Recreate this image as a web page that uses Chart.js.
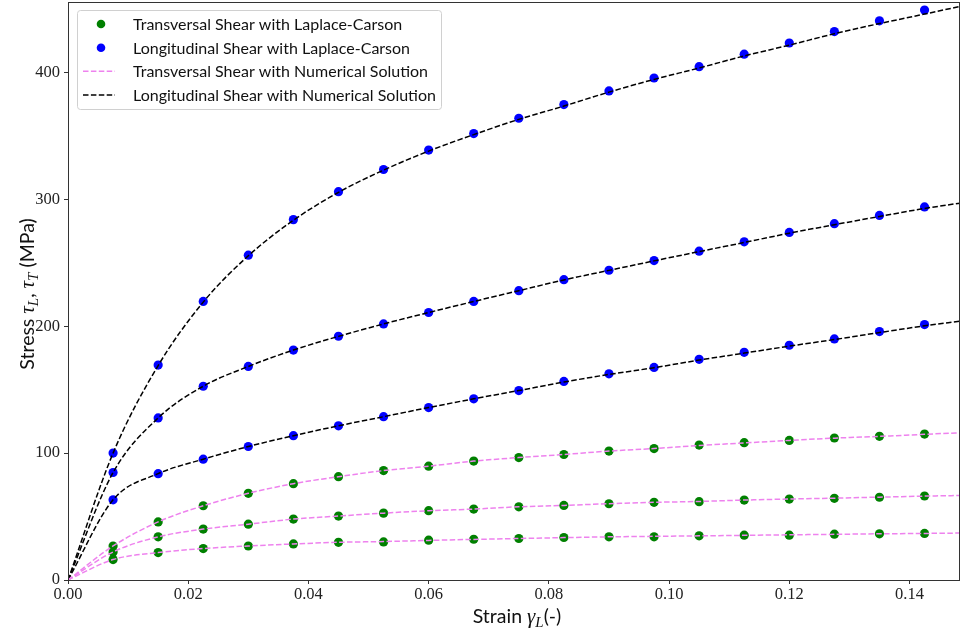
<!DOCTYPE html>
<html lang="en">
<head>
<meta charset="UTF-8">
<title>Shear stress vs strain</title>
<script src="https://cdn.jsdelivr.net/npm/chart.js"></script>
<style>
  html, body { margin: 0; padding: 0; background: #fff; }
  #wrap { width: 961px; height: 635px; }
</style>
</head>
<body>
<div id="wrap"><canvas id="stressChart" width="961" height="635"></canvas></div>
<script>
// strain values of the Laplace-Carson points
const strainPts = [0.0075, 0.015, 0.0225, 0.03, 0.0375, 0.045, 0.0525, 0.06, 0.0675, 0.075,
                   0.0825, 0.09, 0.0975, 0.105, 0.1125, 0.12, 0.1275, 0.135, 0.1425];

// longitudinal shear, Laplace-Carson (MPa)
const longHigh = [100, 169.4, 219.5, 256, 284, 306, 323.5, 338.8, 351.8, 363.9,
                  374.7, 385.4, 395.6, 404.5, 414.4, 423.2, 432.2, 440.7, 449.2];
const longMid  = [84.7, 127.7, 152.7, 168.3, 181.2, 192.1, 201.8, 210.8, 219.5, 228,
                  236.7, 244.1, 251.7, 259.1, 266.5, 273.9, 280.8, 287.3, 294];
const longLow  = [63.2, 83.8, 95.2, 105.2, 113.7, 121.5, 128.7, 135.9, 142.8, 149.3,
                  156.5, 162.5, 167.5, 173.9, 179.4, 185, 190, 195.8, 201.3];

// transversal shear, Laplace-Carson (MPa)
const transHigh = [26.8, 45.8, 58.5, 68.3, 75.9, 81.4, 86.2, 89.7, 93.7, 96.5,
                   98.9, 101.6, 103.6, 106.3, 108.2, 110, 111.9, 113.2, 115];
const transMid  = [22.1, 34, 40.1, 44, 48, 50.4, 52.7, 54.6, 55.9, 57.7,
                   58.8, 60.1, 61.2, 61.7, 63, 63.8, 64.4, 65.2, 66.2];
const transLow  = [16.1, 21.6, 24.8, 26.8, 28.4, 29.7, 30, 31.4, 32.1, 32.7,
                   33.5, 34, 34, 34.8, 35.3, 35.3, 36.1, 36.4, 36.7];

// numerical solution curves (start at origin, run to the right edge)
const numStrain = [0, 0.0075, 0.015, 0.0225, 0.03, 0.0375, 0.045, 0.0525, 0.06, 0.0675, 0.075,
                   0.0825, 0.09, 0.0975, 0.105, 0.1125, 0.12, 0.1275, 0.135, 0.1425, 0.1484];
const numLongHigh  = [0, 100, 169, 219, 255.5, 283.5, 305.5, 323, 338, 351, 363,
                      373.5, 384.5, 394.5, 403.5, 413, 421.5, 430.5, 438.5, 446, 452];
const numLongMid   = [0, 84.7, 127.7, 152.7, 168.3, 181.2, 192, 201.8, 210.8, 219.5, 228,
                      236.5, 244, 251.5, 258.8, 266, 273.3, 280, 286.5, 292.8, 297];
const numLongLow   = [0, 63.2, 83.8, 95.2, 105.2, 113.7, 121.5, 128.7, 135.9, 142.8, 149.3,
                      156, 162, 167.3, 173.3, 178.8, 184.3, 189.5, 195, 200.3, 204];
const numTransHigh = [0, 26.8, 45.8, 58.5, 68.3, 75.9, 81.4, 86.2, 89.7, 93.7, 96.5,
                      98.9, 101.6, 103.6, 106, 108, 110, 111.8, 113.2, 114.8, 116];
const numTransMid  = [0, 22.1, 34, 40.1, 44, 48, 50.4, 52.7, 54.6, 55.9, 57.7,
                      58.8, 60.1, 61.2, 61.9, 63, 63.8, 64.5, 65.3, 66.1, 66.6];
const numTransLow  = [0, 16.1, 21.6, 24.8, 26.8, 28.4, 29.7, 30.3, 31.2, 32, 32.7,
                      33.4, 34, 34.4, 34.8, 35.2, 35.6, 36, 36.4, 36.7, 37];

const legendLabels = [
  'Transversal Shear with Laplace-Carson',
  'Longitudinal Shear with Laplace-Carson',
  'Transversal Shear with Numerical Solution',
  'Longitudinal Shear with Numerical Solution'
];

const GREEN = '#008000', BLUE = '#0000ff', PINK = '#ee82ee', BLACK = '#000000';
const SANS = 'Lato, "DejaVu Sans", sans-serif';
const SERIF = '"Liberation Serif", "DejaVu Serif", serif';

const pts = (xs, ys) => xs.map((x, i) => ({ x: x, y: ys[i] }));

function dots(data, color) {
  return { data: pts(strainPts, data), showLine: false, pointRadius: 4.6, pointHoverRadius: 4.6,
           pointBackgroundColor: color, pointBorderWidth: 0, order: 2 };
}
function curve(data, color) {
  return { data: pts(numStrain, data), showLine: true, pointRadius: 0, borderColor: color,
           borderWidth: 1.5, borderDash: [5.5, 2.4], cubicInterpolationMode: 'monotone',
           fill: false, order: 1 };
}

// draw text made of several pieces (sub-scripts etc.), centred on cx
function drawPieces(ctx, pieces, cx, baseY) {
  let total = 0;
  pieces.forEach(p => { ctx.font = p.font; p.w = ctx.measureText(p.t).width; total += p.w; });
  let x = cx - total / 2;
  ctx.textAlign = 'left';
  ctx.textBaseline = 'alphabetic';
  pieces.forEach(p => { ctx.font = p.font; ctx.fillText(p.t, x, baseY + (p.dy || 0)); x += p.w; });
}

const decorations = {
  id: 'decorations',
  afterDatasetsDraw(chart) {
    const { ctx, chartArea: a } = chart;
    ctx.save();
    ctx.strokeStyle = '#333';
    ctx.lineWidth = 1;
    ctx.strokeRect(Math.round(a.left) + 0.5, Math.round(a.top) + 0.5,
                   Math.round(a.right - a.left) - 1, Math.round(a.bottom - a.top));
    ctx.restore();
  },
  afterDraw(chart) {
    const { ctx, chartArea: a } = chart;
    ctx.save();
    ctx.fillStyle = '#111';
    const main = '19.5px ' + SANS, mathF = 'italic 21px ' + SERIF, subF = 'italic 15px ' + SERIF;

    // x axis title
    drawPieces(ctx, [
      { t: 'Strain ', font: main },
      { t: 'γ', font: mathF },
      { t: 'L', font: subF, dy: 4 },
      { t: '(-)', font: main }
    ], (a.left + a.right) / 2 + 3, 623);

    // y axis title
    ctx.save();
    ctx.translate(34, (a.top + a.bottom) / 2 + 3);
    ctx.rotate(-Math.PI / 2);
    drawPieces(ctx, [
      { t: 'Stress ', font: main },
      { t: 'τ', font: mathF },
      { t: 'L', font: subF, dy: 4 },
      { t: ', ', font: main },
      { t: 'τ', font: mathF },
      { t: 'T', font: subF, dy: 4 },
      { t: ' (MPa)', font: main }
    ], 0, 0);
    ctx.restore();

    // legend box
    const bx = 77.5, by = 10.5, bw = 364, bh = 99;
    ctx.beginPath();
    ctx.roundRect(bx, by, bw, bh, 3);
    ctx.fillStyle = 'rgba(255,255,255,0.8)';
    ctx.fill();
    ctx.strokeStyle = '#d0d0d0';
    ctx.lineWidth = 1;
    ctx.stroke();

    const rows = [24, 47.7, 71.3, 95];
    ctx.font = '16px ' + SANS;
    ctx.textBaseline = 'middle';
    ctx.textAlign = 'left';
    rows.forEach((ry, i) => {
      if (i < 2) {
        ctx.beginPath();
        ctx.arc(101, ry, 4.3, 0, Math.PI * 2);
        ctx.fillStyle = i === 0 ? GREEN : BLUE;
        ctx.fill();
      } else {
        ctx.beginPath();
        ctx.setLineDash([5.5, 2.4]);
        ctx.moveTo(83, ry);
        ctx.lineTo(115, ry);
        ctx.strokeStyle = i === 2 ? PINK : BLACK;
        ctx.lineWidth = 1.5;
        ctx.stroke();
        ctx.setLineDash([]);
      }
      ctx.fillStyle = '#111';
      ctx.fillText(legendLabels[i], 133, ry + 1);
    });
    ctx.restore();
  }
};

const ctx = document.getElementById('stressChart').getContext('2d');
const chart = new Chart(ctx, {
  type: 'scatter',
  data: {
    datasets: [
      curve(numTransHigh, PINK), curve(numTransMid, PINK), curve(numTransLow, PINK),
      curve(numLongHigh, BLACK), curve(numLongMid, BLACK), curve(numLongLow, BLACK),
      dots(transHigh, GREEN), dots(transMid, GREEN), dots(transLow, GREEN),
      dots(longHigh, BLUE), dots(longMid, BLUE), dots(longLow, BLUE)
    ]
  },
  options: {
    responsive: false,
    animation: false,
    devicePixelRatio: 1,
    layout: { autoPadding: false, padding: { top: 2, right: 1, left: 0, bottom: 0 } },
    plugins: { legend: { display: false }, tooltip: { enabled: false } },
    scales: {
      x: {
        type: 'linear', min: 0, max: 0.1484,
        afterFit(scale) { scale.height = 55; scale.paddingLeft = 0; scale.paddingRight = 0; },
        border: { display: false },
        grid: { drawOnChartArea: false, drawTicks: true, tickLength: 4, color: '#333' },
        ticks: { stepSize: 0.02, includeBounds: false, padding: 1, color: '#222',
                 font: { family: SERIF, size: 16.5 },
                 callback: v => v.toFixed(2) }
      },
      y: {
        type: 'linear', min: 0, max: 455.5,
        afterFit(scale) { scale.width = 68; scale.paddingTop = 0; scale.paddingBottom = 0; },
        border: { display: false },
        grid: { drawOnChartArea: false, drawTicks: true, tickLength: 4, color: '#333' },
        ticks: { stepSize: 100, includeBounds: false, padding: 4, color: '#222',
                 font: { family: SERIF, size: 16.5 },
                 callback: v => String(v) }
      }
    }
  },
  plugins: [decorations]
});
</script>
</body>
</html>
